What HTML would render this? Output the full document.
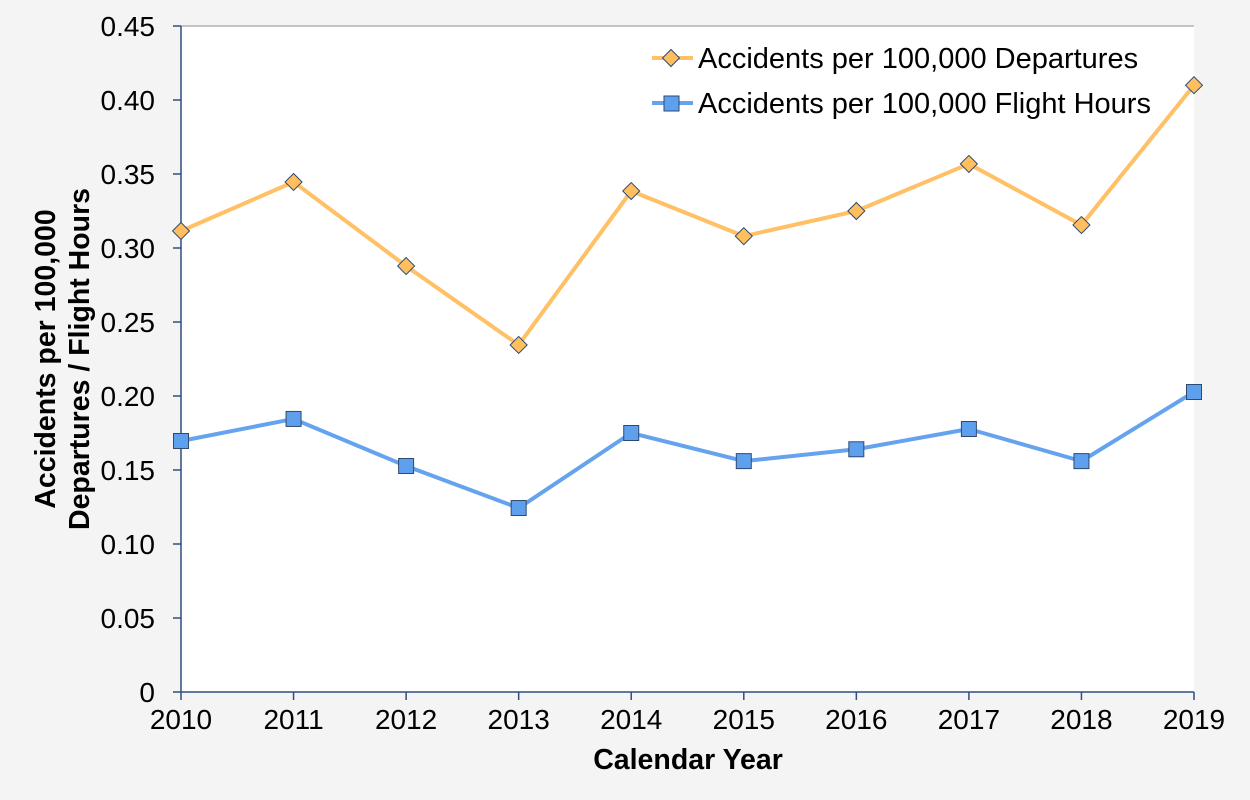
<!DOCTYPE html>
<html><head><meta charset="utf-8"><style>
body{margin:0;background:#f4f4f4;}
svg{display:block;font-family:"Liberation Sans",Arial,sans-serif;}
</style></head><body>
<svg id="chart" width="1250" height="800">
<rect x="0" y="0" width="1250" height="800" fill="#f4f4f4"/>
<rect x="181" y="26" width="1013" height="666" fill="#ffffff"/>
<line x1="181" y1="26" x2="1194" y2="26" stroke="#b0b0b0" stroke-width="1.5"/>
<g id="axes"></g>
<g id="series"></g>
<text transform="translate(55,359) rotate(-90)" text-anchor="middle" font-size="28.5" font-weight="bold"><tspan x="0" y="0">Accidents per 100,000</tspan><tspan x="0" y="34">Departures / Flight Hours</tspan></text>
<text x="688" y="769" text-anchor="middle" font-size="28.5" font-weight="bold">Calendar Year</text>
<g>
<g>
<line x1="652" y1="58" x2="693" y2="58" stroke="#ffc066" stroke-width="4"/>
<rect x="665" y="52" width="12" height="12" transform="rotate(45 671 58)" fill="#ffbf5f" stroke="#2f4a70" stroke-width="1"/>
<text x="698" y="68" font-size="29" fill="#000">Accidents per 100,000 Departures</text>
</g>
<g>
<line x1="652" y1="103" x2="693" y2="103" stroke="#66a3ee" stroke-width="4"/>
<rect x="664" y="96" width="15" height="15" fill="#5fa0ee" stroke="#2f4a70" stroke-width="1"/>
<text x="698" y="113" font-size="29" fill="#000">Accidents per 100,000 Flight Hours</text>
</g>
</g>
</svg>
<script>
const years = ["2010","2011","2012","2013","2014","2015","2016","2017","2018","2019"];
const departures = [0.3115,0.3446,0.2878,0.2345,0.3385,0.308,0.325,0.3568,0.3155,0.410];
const flightHours = [0.1696,0.1845,0.1527,0.1243,0.175,0.156,0.164,0.1777,0.156,0.2027];
const yTicks = [0,0.05,0.10,0.15,0.20,0.25,0.30,0.35,0.40,0.45];
const yTickLabels = ["0","0.05","0.10","0.15","0.20","0.25","0.30","0.35","0.40","0.45"];

const NS="http://www.w3.org/2000/svg";
const X0=181,X1=1194,Y0=692,Y1=26,YMAX=0.45;
function xs(i){return X0+(X1-X0)*i/(years.length-1);}
function ys(v){return Y0-(Y0-Y1)*v/YMAX;}
function mk(t,a,p){const e=document.createElementNS(NS,t);for(const k in a)e.setAttribute(k,a[k]);p.appendChild(e);return e;}
const axes=document.getElementById('axes');
const ser=document.getElementById('series');
const ya=mk('line',{x1:X0,y1:Y1,x2:X0,y2:Y0,stroke:'#2f4f7f','stroke-width':1.5},axes);


const xa=mk('line',{x1:X0,y1:Y0,x2:X1,y2:Y0,stroke:'#2f4f7f','stroke-width':1.5},axes);


yTicks.forEach((v,i)=>{
  const y=ys(v);
  const t=mk('line',{x1:X0-8,y1:y,x2:X0,y2:y,stroke:'#2f4f7f','stroke-width':1.5},axes);
  
  
  const l=mk('text',{x:X0-26,y:y+10,'text-anchor':'end','font-size':28},axes);
  l.textContent=yTickLabels[i];
  
  
});
years.forEach((yr,i)=>{
  const x=xs(i);
  const t=mk('line',{x1:x,y1:Y0,x2:x,y2:Y0+8,stroke:'#2f4f7f','stroke-width':1.5},axes);
  
  
  const l=mk('text',{x:x,y:Y0+37,'text-anchor':'middle','font-size':28},axes);
  l.textContent=yr;
  
  
});
function draw(vals,color,fill,shape,name){
  const pts=vals.map((v,i)=>xs(i)+','+ys(v)).join(' ');
  const pl=mk('polyline',{points:pts,fill:'none',stroke:color,'stroke-width':4,'stroke-linejoin':'round'},ser);
  
  
  vals.forEach((v,i)=>{
    const x=xs(i),y=ys(v);let m;
    if(shape==='diamond'){m=mk('rect',{x:x-6,y:y-6,width:12,height:12,transform:`rotate(45 ${x} ${y})`,fill:fill,stroke:'#2f4a70','stroke-width':1},ser);}
    else{m=mk('rect',{x:x-7.5,y:y-7.5,width:15,height:15,fill:fill,stroke:'#2f4a70','stroke-width':1},ser);}
    
    
  });
}
draw(departures,'#ffc066','#ffbf5f','diamond','departures');
draw(flightHours,'#66a3ee','#5fa0ee','square','flight-hours');
</script>
</body></html>
